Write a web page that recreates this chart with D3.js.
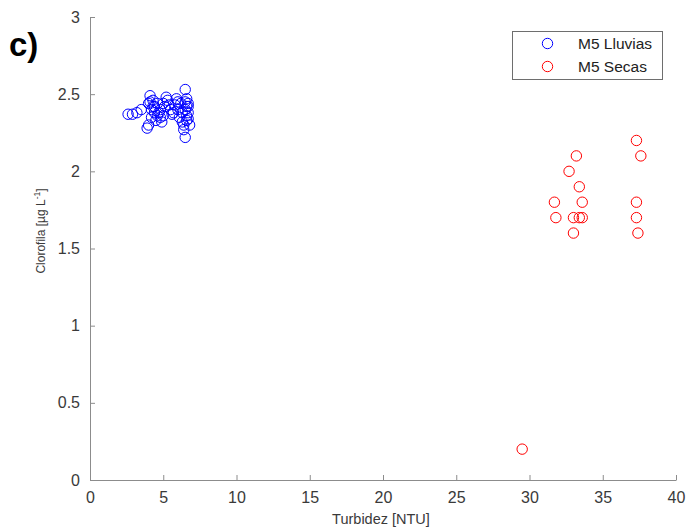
<!DOCTYPE html>
<html><head><meta charset="utf-8">
<script src="https://cdn.jsdelivr.net/npm/d3@7"></script>
<style>body{margin:0;background:#fff}svg{display:block}</style>
</head><body>
<svg id="c" width="688" height="529"></svg>
<script>
const xTicks = [0,5,10,15,20,25,30,35,40];
const yTicks = [0,0.5,1,1.5,2,2.5,3];
const seriesNames = ["M5 Lluvias","M5 Secas"];
const lluviasX = [2.6,2.9,3.2,3.5,3.9,4.0,4.1,4.0,4.3,4.4,4.2,4.5,4.6,4.7,4.8,4.9,5.0,5.1,5.2,5.3,5.5,5.6,5.8,5.9,6.0,6.1,6.2,6.3,6.4,6.5,6.5,6.6,6.6,6.7,6.6,6.7,6.8,6.7,6.5,4.3,
                  4.1,4.2,4.4,4.6,5.0,5.4,6.0,6.3,6.5,6.6,6.4,6.7,5.7,4.8];
const lluviasY = [2.37,2.37,2.38,2.40,2.28,2.30,2.49,2.44,2.46,2.42,2.35,2.33,2.44,2.38,2.40,2.32,2.36,2.42,2.48,2.46,2.40,2.37,2.43,2.47,2.40,2.35,2.44,2.32,2.30,2.53,2.22,2.47,2.42,2.38,2.36,2.44,2.30,2.34,2.40,2.42,
                  2.45,2.40,2.38,2.36,2.44,2.43,2.45,2.38,2.45,2.33,2.27,2.42,2.38,2.35];
const secasX = [37.3,37.6,33.2,32.7,33.4,31.7,33.6,37.3,31.8,33.0,33.4,33.6,37.3,33.0,37.4,29.5];
const secasY = [2.2,2.1,2.1,2.0,1.9,1.8,1.8,1.8,1.7,1.7,1.7,1.7,1.7,1.6,1.6,0.2];
const colors = ["#0000ff","#ff0000"];

const svg = d3.select("#c");
const x = d3.scaleLinear().domain([0,40]).range([90,676]);
const y = d3.scaleLinear().domain([0,3]).range([480,17]);
const font = "'Liberation Sans', Arial, sans-serif";

const xa = svg.append("g").attr("transform","translate(0,480)")
  .call(d3.axisBottom(x).tickValues(xTicks).tickSizeInner(-5).tickSizeOuter(0).tickPadding(12));
const ya = svg.append("g").attr("transform","translate(90,0)")
  .call(d3.axisLeft(y).tickValues(yTicks).tickSizeInner(-5).tickSizeOuter(0).tickPadding(10).tickFormat(d3.format("")));
[xa,ya].forEach(a=>{
  a.select(".domain").attr("stroke","#8c8c8c");
  a.selectAll(".tick line").attr("stroke","#8c8c8c");
  a.selectAll(".tick text").attr("fill","#3a3a3a").style("font-family",font).style("font-size","16px");
});

const data = [lluviasX.map((v,i)=>[v,lluviasY[i]]), secasX.map((v,i)=>[v,secasY[i]])];
data.forEach((pts,k)=>{
  svg.append("g").selectAll("circle").data(pts).join("circle")
    .attr("cx",d=>x(d[0])).attr("cy",d=>y(d[1])).attr("r",5.2)
    .attr("fill","none").attr("stroke",colors[k]).attr("stroke-width",1);
});

svg.append("text").attr("x",381).attr("y",524).attr("text-anchor","middle")
  .style("font-family",font).style("font-size","14.5px").attr("fill","#3a3a3a").text("Turbidez [NTU]");
const yl = svg.append("text").attr("transform","translate(45,231) rotate(-90)").attr("text-anchor","middle")
  .style("font-family",font).style("font-size","12px").attr("fill","#3a3a3a");
yl.append("tspan").text("Clorofila [µg L");
yl.append("tspan").attr("dy",-5).style("font-size","8.5px").text("-1");
yl.append("tspan").attr("dy",5).text("]");

svg.append("text").attr("x",9).attr("y",56).style("font-family",font)
  .style("font-weight","bold").style("font-size","33px").attr("fill","#000").text("c)");

const lg = svg.append("g");
lg.append("rect").attr("x",512.5).attr("y",31.5).attr("width",150).attr("height",48)
  .attr("fill","#fff").attr("stroke","#6e6e6e").attr("stroke-width",1);
seriesNames.forEach((n,i)=>{
  const yy = 43.5 + i*23;
  lg.append("circle").attr("cx",547.5).attr("cy",yy).attr("r",5.2).attr("fill","none").attr("stroke",colors[i]);
  lg.append("text").attr("x",578).attr("y",yy+5.5).style("font-family",font).style("font-size","15.5px")
    .attr("fill","#222").text(n);
});
</script>
</body></html>
